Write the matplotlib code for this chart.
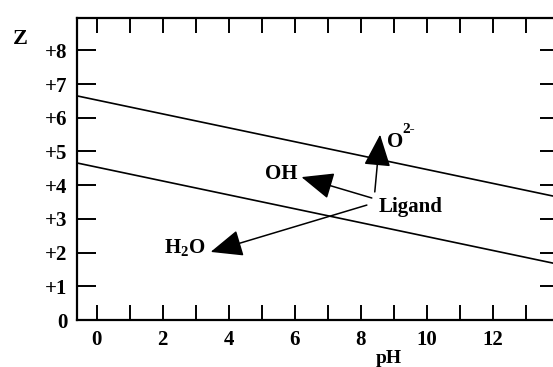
import matplotlib.pyplot as plt
import numpy as np

# values
ph_ends = [-0.6, 14.0]
z_upper = [6.65, 3.64]
z_lower = [4.66, 1.65]

y_ticks = [0, 1, 2, 3, 4, 5, 6, 7, 8]
y_labels = ['0', '+1', '+2', '+3', '+4', '+5', '+6', '+7', '+8']
x_major = [0, 2, 4, 6, 8, 10, 12]
x_minor = [1, 3, 5, 7, 9, 11, 13]

# ligand arrows: (label, text pos, arrow start, arrow tip)
ligand_pos = (8.55, 3.35)
arrows = [
    ('H$_2$O', (3.3, 2.14), (8.18, 3.41), (3.45, 2.02)),
    ('OH', (6.08, 4.33), (8.33, 3.62), (6.2, 4.24)),
]
o2_start, o2_tip = (8.42, 3.80), (8.58, 5.50)

plt.rcParams['font.family'] = ['Liberation Serif', 'DejaVu Serif']
plt.rcParams['mathtext.fontset'] = 'custom'
plt.rcParams['mathtext.rm'] = 'Liberation Serif:bold'
plt.rcParams['mathtext.it'] = 'Liberation Serif:bold'

fig = plt.figure(figsize=(5.53, 3.67), dpi=100)
ax = fig.add_axes([0.139, 0.128, 0.872, 0.823])

ax.plot(ph_ends, z_upper, color='black', lw=1.2)
ax.plot(ph_ends, z_lower, color='black', lw=1.2)

ax.set_xlim(-0.6, 14.0)
ax.set_ylim(0, 8.96)

ax.set_xticks(x_major)
ax.set_xticks(x_minor, minor=True)
ax.set_yticks(y_ticks)
ax.set_yticklabels(y_labels)

ax.tick_params(axis='x', which='both', direction='in', top=True, length=11,
               width=1.4, labelsize=15, pad=7)
ax.tick_params(axis='y', which='both', direction='in', right=True, length=14,
               width=1.4, labelsize=15, pad=7)
for lab in ax.get_xticklabels() + ax.get_yticklabels():
    lab.set_fontweight('bold')
for s in ax.spines.values():
    s.set_linewidth(1.6)

aprops = dict(arrowstyle='-|>,head_length=1.0,head_width=0.42', mutation_scale=20,
              color='black', lw=1.1, shrinkA=0, shrinkB=0)
for name, tpos, start, tip in arrows:
    ax.annotate('', xy=tip, xytext=start, arrowprops=aprops)
    ax.text(tpos[0], tpos[1], name, ha='right', va='center', fontsize=15,
            fontweight='bold')
ax.annotate('', xy=o2_tip, xytext=o2_start, arrowprops=aprops)
ax.text(8.78, 5.27, 'O', ha='left', va='center', fontsize=15, fontweight='bold')
ax.text(9.25, 5.65, '2-', ha='left', va='center', fontsize=11, fontweight='bold')
ax.text(ligand_pos[0], ligand_pos[1], 'Ligand', ha='left', va='center',
        fontsize=15, fontweight='bold')

fig.text(0.023, 0.895, 'Z', fontsize=16, fontweight='bold', ha='left', va='center')
fig.text(0.703, 1 - 350 / 367, 'pH', fontsize=14, fontweight='bold', ha='center', va='top')

fig.savefig('out.png', dpi=100)
